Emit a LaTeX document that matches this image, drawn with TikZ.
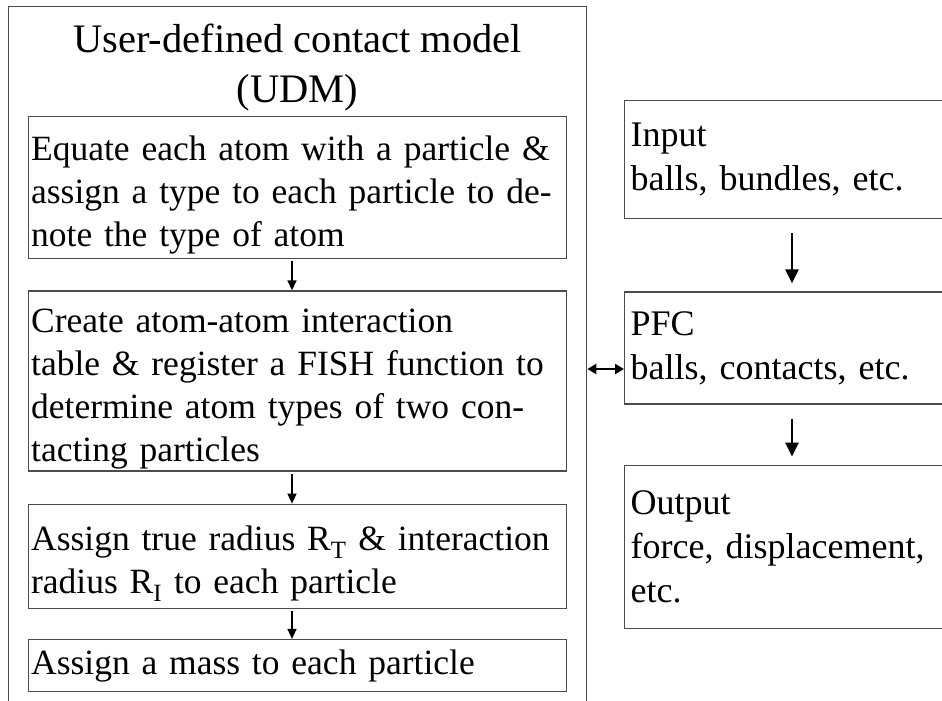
\documentclass[tikz,border=0pt]{standalone}
\usepackage{fontspec}
\setmainfont{Liberation Serif}
\usetikzlibrary{
  arrows.meta, % for the Triangle arrow tips
  positioning % for stacking the boxes below one another
}
\tikzset{
  frame/.style={ % the big UDM box round the steps
    rectangle,draw=black!70,line width=1.3pt,
    inner sep=0pt,
  },
  textbox/.style={ % common look of all text boxes
    rectangle,draw=black!70,line width=1.3pt,
    anchor=north west,
    inner ysep=0pt,
    align=left,
  },
  stepbox/.style={ % style for each step of the UDM
    textbox,
    minimum width=538pt, % same width for every step
    text width=533pt,
    inner xsep=2.5pt,
    font=\fontsize{35.5}{43}\selectfont,
  },
  lowtext/.style={ % push the lines of a step a bit down
    execute at begin node={\rule{0pt}{39pt}},
  },
  sidebox/.style={ % style for the PFC boxes on the right
    textbox,
    minimum width=330pt,
    text width=318pt,
    inner xsep=5pt,
    font=\fontsize{36}{44}\selectfont,
  },
  flow/.style={ % small arrows between the steps
    -{Triangle[length=10pt,width=9pt]},
    line width=1.6pt,
    shorten <=2pt,
  },
  bigflow/.style={ % arrows between the PFC boxes
    -{Triangle[length=14pt,width=13pt]},
    line width=2.6pt,
    shorten <=14pt,shorten >=8pt,
  },
  biflow/.style={ % two way link between UDM and PFC
    {Triangle[length=9pt,width=10pt]}-{Triangle[length=9pt,width=10pt]},
    line width=2.4pt,
  },
}
\begin{document}
\begin{tikzpicture}[x=1pt,y=-1pt]
\clip (0,0) rectangle (942,701);
\fill[white] (0,0) rectangle (942,701);
% the UDM column
\node[frame, minimum width=578pt, minimum height=760pt, anchor=north west] (udm) at (8,6) {};
\node[align=center, font=\fontsize{40.5}{50}\selectfont, below=14pt of udm.north] (title) {User-defined contact model\\(UDM)};
\node[stepbox, lowtext, minimum height=142pt] (step1) at (28,116) {Equate each atom with a particle \&\\assign a type to each particle to de-\\note the type of atom};
\node[stepbox, lowtext, minimum height=180pt, below=31pt of step1] (step2) {Create atom-atom interaction\\table \& register a FISH function to\\determine atom types of two con-\\tacting particles};
\node[stepbox, lowtext, minimum height=104pt, below=32pt of step2] (step3) {Assign true radius R\textsubscript{T} \& interaction\\radius R\textsubscript{I} to each particle};
\node[stepbox, minimum height=52pt, below=30pt of step3] (step4) {Assign a mass to each particle};
% the PFC column
\node[sidebox, minimum height=118pt] (input) at (624,100) {Input\\balls, bundles, etc.};
\node[sidebox, minimum height=112pt, below=72pt of input] (pfc) {PFC\\balls, contacts, etc.};
\node[sidebox, minimum height=163pt, below=60pt of pfc] (output) {Output\\force, displacement,\\etc.};
% x positions of the arrows
\coordinate (lx) at (292,0);
\coordinate (rx) at (792,0);
\coordinate (link) at (0,369);
\draw[flow] (step1.south -| lx) -- (step2.north -| lx);
\draw[flow] (step2.south -| lx) -- (step3.north -| lx);
\draw[flow] (step3.south -| lx) -- (step4.north -| lx);
\draw[bigflow] (input.south -| rx) -- (pfc.north -| rx);
\draw[bigflow] (pfc.south -| rx) -- (output.north -| rx);
\draw[biflow] (udm.east |- link) -- (pfc.west |- link);
\end{tikzpicture}
\end{document}
